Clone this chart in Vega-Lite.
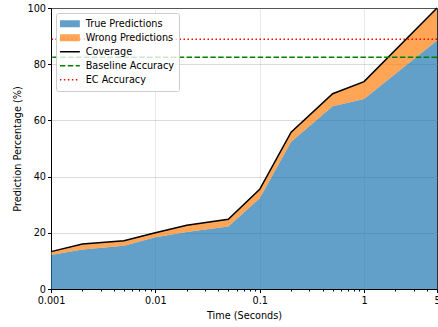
{
  "$schema": "https://vega.github.io/schema/vega-lite/v6.json",
  "width": 386,
  "height": 281,
  "autosize": "none",
  "padding": {"left": 51, "top": 8, "right": 1, "bottom": 38},
  "config": {
    "font": "DejaVu Sans",
    "view": {"stroke": "black", "strokeWidth": 1},
    "axis": {
      "domainColor": "black",
      "tickColor": "black",
      "labelColor": "black",
      "titleColor": "black",
      "labelFont": "DejaVu Sans",
      "titleFont": "DejaVu Sans",
      "labelFontSize": 9.7,
      "titleFontSize": 9.7,
      "titleFontWeight": "normal",
      "tickSize": 3.5,
      "labelPadding": 2,
      "gridColor": "#b0b0b0",
      "gridOpacity": 0.6,
      "gridWidth": 0.8,
      "zindex": 1
    },
    "legend": {
      "title": null,
      "orient": "none",
      "legendX": 5,
      "legendY": 5,
      "padding": 4,
      "fillColor": "rgba(255,255,255,0.8)",
      "strokeColor": "#cccccc",
      "cornerRadius": 2,
      "labelFont": "DejaVu Sans",
      "labelFontSize": 9.7,
      "labelColor": "black",
      "symbolSize": 100,
      "symbolOffset": 5,
      "labelOffset": 11,
      "rowPadding": 0,
      "clipHeight": 13.7
    }
  },
  "datasets": {
    "main": [
      {"time": 0.001, "correct": 12.1, "coverage": 13.3},
      {"time": 0.002, "correct": 14.1, "coverage": 16.0},
      {"time": 0.005, "correct": 15.4, "coverage": 17.2},
      {"time": 0.01, "correct": 18.4, "coverage": 20.0},
      {"time": 0.02, "correct": 20.3, "coverage": 22.7},
      {"time": 0.05, "correct": 22.2, "coverage": 24.8},
      {"time": 0.1, "correct": 32.3, "coverage": 35.5},
      {"time": 0.2, "correct": 52.4, "coverage": 55.8},
      {"time": 0.5, "correct": 65.0, "coverage": 69.5},
      {"time": 1, "correct": 67.6, "coverage": 73.8},
      {"time": 5, "correct": 88.4, "coverage": 100}
    ],
    "refs": [
      {"name": "Baseline Accuracy", "value": 82.5},
      {"name": "EC Accuracy", "value": 88.9}
    ]
  },
  "layer": [
    {
      "data": {"name": "main"},
      "mark": {"type": "area", "opacity": 0.7},
      "encoding": {
        "x": {
          "field": "time",
          "type": "quantitative",
          "scale": {"type": "log", "domain": [0.001, 5], "nice": false},
          "axis": {
            "title": "Time (Seconds)",
            "values": [0.001, 0.002, 0.003, 0.004, 0.005, 0.006, 0.007, 0.008, 0.009, 0.01, 0.02, 0.03, 0.04, 0.05, 0.06, 0.07, 0.08, 0.09, 0.1, 0.2, 0.3, 0.4, 0.5, 0.6, 0.7, 0.8, 0.9, 1, 2, 3, 4, 5],
            "format": "~g",
            "labelExpr": "indexof([0.001, 0.01, 0.1, 1, 5], datum.value) >= 0 ? datum.label : ''",
            "labelOverlap": false,
            "labelFlush": false,
            "tickSize": {"condition": {"test": "indexof([0.001, 0.01, 0.1, 1, 5], datum.value) >= 0", "value": 3.5}, "value": 2},
            "gridOpacity": {"condition": {"test": "indexof([0.001, 0.01, 0.1, 1, 5], datum.value) >= 0", "value": 0.6}, "value": 0},
            "labelPadding": 3,
            "titlePadding": 5
          }
        },
        "y": {
          "field": "correct",
          "type": "quantitative",
          "scale": {"domain": [0, 100], "nice": false},
          "axis": {"title": "Prediction Percentage (%)", "values": [0, 20, 40, 60, 80, 100], "titlePadding": 5}
        },
        "color": {
          "datum": "True Predictions",
          "title": null,
          "scale": {
            "domain": ["True Predictions", "Wrong Predictions", "Coverage", "Baseline Accuracy", "EC Accuracy"],
            "range": ["#1f77b4", "#ff7f0e", "#000000", "#008000", "#ff0000"]
          },
          "legend": {
            "encode": {
              "symbols": {
                "update": {
                  "shape": {"signal": "datum.value == 'True Predictions' || datum.value == 'Wrong Predictions' ? 'M-2,-0.7H2V0.7H-2Z' : 'M-2,0H2'"},
                  "fill": {"signal": "datum.value == 'True Predictions' ? '#1f77b4' : datum.value == 'Wrong Predictions' ? '#ff7f0e' : 'transparent'"},
                  "fillOpacity": {"value": 0.7},
                  "stroke": {"signal": "datum.value == 'Coverage' ? '#000000' : datum.value == 'Baseline Accuracy' ? '#008000' : datum.value == 'EC Accuracy' ? '#ff0000' : 'transparent'"},
                  "strokeWidth": {"signal": "datum.value == 'True Predictions' || datum.value == 'Wrong Predictions' ? 0 : 1.5"},
                  "strokeDash": {"signal": "datum.value == 'Baseline Accuracy' ? [5.5, 2.4] : datum.value == 'EC Accuracy' ? [1.5, 2.5] : [1, 0]"},
                  "opacity": {"value": 1}
                }
              }
            }
          }
        }
      }
    },
    {
      "data": {"name": "main"},
      "mark": {"type": "area", "opacity": 0.7},
      "encoding": {
        "x": {"field": "time", "type": "quantitative"},
        "y": {"field": "coverage", "type": "quantitative"},
        "y2": {"field": "correct"},
        "color": {"datum": "Wrong Predictions", "title": null}
      }
    },
    {
      "data": {"name": "main"},
      "mark": {"type": "line", "strokeWidth": 1.5},
      "encoding": {
        "x": {"field": "time", "type": "quantitative"},
        "y": {"field": "coverage", "type": "quantitative"},
        "color": {"datum": "Coverage", "title": null}
      }
    },
    {
      "data": {"name": "refs"},
      "mark": {"type": "rule", "strokeWidth": 1.5},
      "encoding": {
        "y": {"field": "value", "type": "quantitative"},
        "color": {
          "field": "name",
          "type": "nominal",
          "title": null,
          "legend": {
            "encode": {
              "symbols": {
                "update": {
                  "shape": {"signal": "datum.value == 'True Predictions' || datum.value == 'Wrong Predictions' ? 'M-2,-0.7H2V0.7H-2Z' : 'M-2,0H2'"},
                  "fill": {"signal": "datum.value == 'True Predictions' ? '#1f77b4' : datum.value == 'Wrong Predictions' ? '#ff7f0e' : 'transparent'"},
                  "fillOpacity": {"value": 0.7},
                  "stroke": {"signal": "datum.value == 'Coverage' ? '#000000' : datum.value == 'Baseline Accuracy' ? '#008000' : datum.value == 'EC Accuracy' ? '#ff0000' : 'transparent'"},
                  "strokeWidth": {"signal": "datum.value == 'True Predictions' || datum.value == 'Wrong Predictions' ? 0 : 1.5"},
                  "strokeDash": {"signal": "datum.value == 'Baseline Accuracy' ? [5.5, 2.4] : datum.value == 'EC Accuracy' ? [1.5, 2.5] : [1, 0]"},
                  "opacity": {"value": 1}
                }
              }
            }
          }
        },
        "strokeDash": {
          "field": "name",
          "type": "nominal",
          "scale": {"domain": ["Baseline Accuracy", "EC Accuracy"], "range": [[5.5, 2.4], [1.5, 2.5]]},
          "legend": null
        }
      }
    }
  ]
}
